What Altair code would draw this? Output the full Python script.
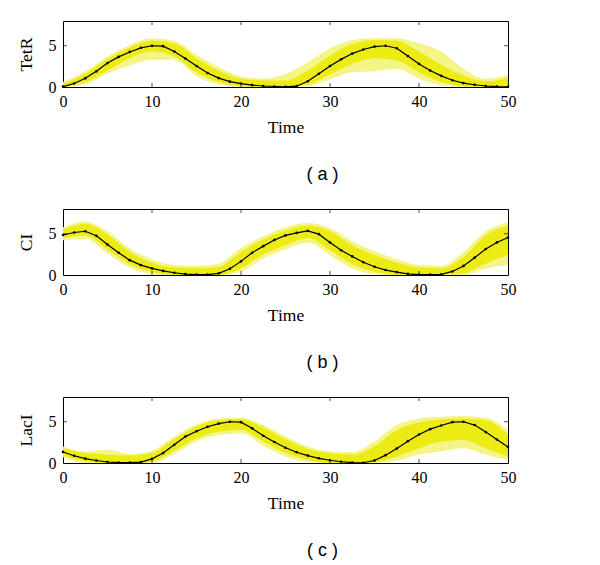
import altair as alt
import pandas as pd

TIME = [0, 1.25, 2.5, 3.75, 5, 6.25, 7.5, 8.75, 10, 11.25, 12.5, 13.75, 15, 16.25,
        17.5, 18.75, 20, 21.25, 22.5, 23.75, 25, 26.25, 27.5, 28.75, 30, 31.25,
        32.5, 33.75, 35, 36.25, 37.5, 38.75, 40, 41.25, 42.5, 43.75, 45, 46.25,
        47.5, 48.75, 50]
BAND_TIME = [0, 2.5, 5, 7.5, 10, 12.5, 15, 17.5, 20, 22.5, 25, 27.5, 30, 32.5,
             35, 37.5, 40, 42.5, 45, 47.5, 50]

TETR_MEAN = [0.05, 0.43, 1.05, 1.9, 2.9, 3.65, 4.25, 4.75, 5.0, 4.95, 4.3, 3.45,
             2.55, 1.7, 1.08, 0.65, 0.42, 0.23, 0.12, 0.06, 0.02, 0.1, 0.7, 1.6,
             2.55, 3.35, 4.05, 4.55, 4.9, 5.0, 4.7, 3.75, 2.8, 2.0, 1.35, 0.82,
             0.47, 0.27, 0.12, 0.05, 0.02]
TETR_IN_LO = [0, 0.6, 2.0, 3.5, 4.3, 3.7, 1.8, 0.6, 0.1, 0, 0, 0.3, 1.5, 2.8, 3.5,
              3.2, 1.8, 0.6, 0.1, 0, 0]
TETR_IN_HI = [0.4, 1.6, 3.4, 4.8, 5.6, 5.3, 3.5, 2.0, 1.0, 0.8, 0.8, 2.0, 3.8, 5.2,
              5.7, 5.6, 4.3, 2.7, 1.4, 0.7, 1.1]
TETR_OUT_LO = [0, 0.3, 1.6, 2.6, 3.3, 3.3, 1.3, 0.3, 0, 0, 0, 0.1, 0.9, 1.8, 1.9,
               2.2, 1.0, 0.2, 0, 0, 0]
TETR_OUT_HI = [0.6, 1.9, 3.7, 5.1, 5.9, 5.6, 3.9, 2.4, 1.3, 1.0, 1.6, 3.0, 4.7,
               5.7, 5.9, 5.9, 5.3, 4.3, 2.2, 1.0, 1.5]

CI_MEAN = [4.85, 5.15, 5.3, 4.75, 3.7, 2.7, 1.8, 1.2, 0.8, 0.5, 0.27, 0.1, 0.04,
           0.05, 0.2, 0.75, 1.65, 2.7, 3.5, 4.25, 4.8, 5.1, 5.35, 4.95, 3.95, 3.0,
           2.25, 1.55, 1.0, 0.6, 0.35, 0.13, 0.04, 0.04, 0.08, 0.43, 1.1, 2.1,
           3.15, 3.95, 4.55]
CI_IN_LO = [4.5, 4.8, 3.1, 1.3, 0.35, 0, 0, 0, 0.8, 2.5, 3.6, 4.5, 3.0, 1.3, 0.4,
            0, 0, 0, 0.2, 1.4, 2.5]
CI_IN_HI = [5.5, 6.2, 4.9, 2.8, 1.5, 0.9, 0.8, 1.0, 2.8, 4.3, 5.4, 6.0, 5.3, 3.6,
            2.4, 1.5, 0.9, 0.8, 2.2, 4.8, 6.0]
CI_OUT_LO = [4.2, 4.4, 2.6, 0.9, 0.1, 0, 0, 0, 0.4, 2.0, 3.1, 3.9, 2.4, 0.8, 0.1,
             0, 0, 0, 0, 0.8, 1.2]
CI_OUT_HI = [5.8, 6.5, 5.3, 3.2, 1.9, 1.2, 1.1, 1.4, 3.3, 4.7, 5.8, 6.3, 5.7, 4.1,
             2.9, 1.9, 1.2, 1.1, 2.8, 5.3, 6.4]

LACI_MEAN = [1.34, 0.88, 0.53, 0.3, 0.12, 0.04, 0.04, 0.1, 0.5, 1.2, 2.2, 3.2,
             3.85, 4.4, 4.78, 5.0, 4.95, 4.2, 3.3, 2.55, 1.85, 1.3, 0.9, 0.57,
             0.33, 0.15, 0.05, 0.03, 0.3, 0.95, 1.75, 2.65, 3.45, 4.1, 4.55, 4.95,
             5.0, 4.6, 3.75, 2.85, 1.95]
LACI_IN_LO = [0.9, 0.2, 0, 0, 0.2, 1.5, 3.0, 3.8, 4.0, 2.6, 1.2, 0.4, 0, 0, 0.1,
              0.8, 1.8, 2.6, 2.8, 1.8, 0.8]
LACI_IN_HI = [1.8, 1.2, 1.0, 0.9, 1.2, 2.9, 4.4, 5.2, 5.3, 4.3, 2.9, 1.7, 1.2, 1.0,
              2.0, 4.0, 4.9, 5.3, 5.4, 5.2, 3.4]
LACI_OUT_LO = [0.7, 0, 0, 0, 0, 1.1, 2.6, 3.4, 3.6, 2.1, 0.8, 0.1, 0, 0, 0, 0.3,
               1.0, 1.4, 1.8, 1.0, 0.4]
LACI_OUT_HI = [2.0, 1.4, 1.6, 1.1, 1.5, 3.2, 4.7, 5.4, 5.5, 4.6, 3.2, 2.0, 1.4, 1.3,
               2.6, 4.6, 5.4, 5.6, 5.7, 5.5, 4.0]

X_LABELS = [0, 10, 20, 30, 40, 50]
Y_LABELS = [0, 5]
X_INNER_TICKS = [10, 20, 30, 40]
Y_INNER_TICKS = [5]

SERIF = "Liberation Serif"
SANS = "Liberation Sans"
W, H = 445, 66


def panel(name, mean, ilo, ihi, olo, ohi, caption):
    band = pd.DataFrame({"t": BAND_TIME, "ilo": ilo, "ihi": ihi, "olo": olo, "ohi": ohi})
    line = pd.DataFrame({"t": TIME, "v": mean})
    xt = pd.DataFrame({"t": X_INNER_TICKS})
    yt = pd.DataFrame({"v": Y_INNER_TICKS})

    xs = alt.Scale(domain=[0, 50], nice=False, zero=False)
    ys = alt.Scale(domain=[0, 8], nice=False)
    xaxis = alt.Axis(values=X_LABELS, tickSize=0, domain=False, grid=False,
                     labelFlush=False,
                     labelFont=SERIF, labelFontSize=16, labelColor="black",
                     titleFont=SERIF, titleFontSize=17.5, titleFontWeight="normal",
                     titleColor="black", labelPadding=6, titlePadding=9)
    yaxis = alt.Axis(values=Y_LABELS, tickSize=0, domain=False, grid=False,
                     labelFlush=False,
                     labelFont=SERIF, labelFontSize=16, labelColor="black",
                     titleFont=SERIF, titleFontSize=17.5, titleFontWeight="normal",
                     titleColor="black", labelPadding=7, titlePadding=13)

    def X(f):
        return alt.X(f, scale=xs, axis=xaxis, title="Time")

    def Y(f):
        return alt.Y(f, scale=ys, axis=yaxis, title=name)

    outer = alt.Chart(band).mark_area(color="#f4f488", interpolate="monotone").encode(
        x=X("t:Q"), y=Y("olo:Q"), y2="ohi:Q")
    inner = alt.Chart(band).mark_area(color="#ecec14", interpolate="monotone").encode(
        x=X("t:Q"), y=Y("ilo:Q"), y2="ihi:Q")
    mline = alt.Chart(line).mark_line(
        color="black", strokeWidth=1.2,
        point=alt.OverlayMarkDef(filled=True, size=7, color="black")).encode(
        x=X("t:Q"), y=Y("v:Q"))
    ttop = alt.Chart(xt).mark_tick(color="black", size=8, thickness=1, clip=True).encode(
        x=X("t:Q"), y=alt.value(0))
    tbot = alt.Chart(xt).mark_tick(color="black", size=8, thickness=1, clip=True).encode(
        x=X("t:Q"), y=alt.value(H))
    tleft = alt.Chart(yt).mark_tick(color="black", size=8, thickness=1, clip=True).encode(
        y=Y("v:Q"), x=alt.value(0))
    tright = alt.Chart(yt).mark_tick(color="black", size=8, thickness=1, clip=True).encode(
        y=Y("v:Q"), x=alt.value(W))

    return alt.layer(outer, inner, mline, ttop, tbot, tleft, tright).properties(
        width=W, height=H,
        title=alt.TitleParams(caption, orient="bottom", frame="group", font=SANS,
                              fontSize=18, fontWeight="normal", color="black",
                              offset=30, dx=37))


chart = alt.vconcat(
    panel("TetR", TETR_MEAN, TETR_IN_LO, TETR_IN_HI, TETR_OUT_LO, TETR_OUT_HI, "( a )"),
    panel("CI", CI_MEAN, CI_IN_LO, CI_IN_HI, CI_OUT_LO, CI_OUT_HI, "( b )"),
    panel("LacI", LACI_MEAN, LACI_IN_LO, LACI_IN_HI, LACI_OUT_LO, LACI_OUT_HI, "( c )"),
    spacing=24,
).properties(
    padding={"left": 8, "top": 12, "right": 5, "bottom": 2}
).configure(background="white").configure_view(stroke="black", strokeWidth=1)

chart.save("out.html", embed_options={"renderer": "svg", "actions": False})
